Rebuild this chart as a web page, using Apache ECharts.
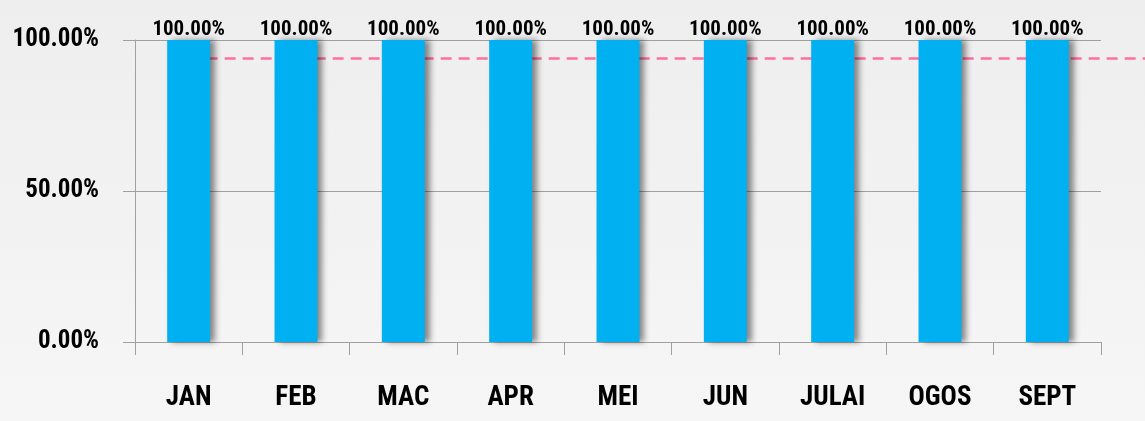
<!DOCTYPE html>
<html><head><meta charset="utf-8">
<script src="https://cdn.jsdelivr.net/npm/echarts@6/dist/echarts.min.js"></script>
<style>html,body{margin:0;padding:0;}#c{width:1145px;height:421px;}</style>
</head><body><div id="c"></div>
<script>
const categories = ['JAN','FEB','MAC','APR','MEI','JUN','JULAI','OGOS','SEPT'];
const values = [100,100,100,100,100,100,100,100,100];
const target = 94;
const yTicks = [0, 50, 100];

const FONT = "'Roboto Condensed','Open Sans Condensed',sans-serif";
const chart = echarts.init(document.getElementById('c'));
chart.setOption({
  backgroundColor: {type:'linear',x:0,y:0,x2:0,y2:1,colorStops:[{offset:0,color:'#eeeeee'},{offset:1,color:'#f6f6f6'}]},
  animation:false,
  grid:{left:135,right:44,top:40,bottom:79,containLabel:false,outerBoundsMode:'none'},
  xAxis:{type:'category',data:categories,
    axisLine:{lineStyle:{color:'#a0a0a0',width:1}},
    axisTick:{show:true,length:13,lineStyle:{color:'#a0a0a0'}},
    axisLabel:{margin:43,color:'#000',fontFamily:FONT,fontWeight:'bold',fontSize:27}
  },
  yAxis:{type:'value',min:0,max:100,interval:50,
    axisLine:{show:true,lineStyle:{color:'#a0a0a0'}},
    axisTick:{show:true,length:12,lineStyle:{color:'#a0a0a0'}},
    splitLine:{lineStyle:{color:'#a0a0a0',width:1}},
    axisLabel:{margin:36,color:'#000',fontFamily:FONT,fontWeight:'bold',fontSize:25,
      formatter:v=>v.toFixed(2)+'%'}
  },
  series:[{type:'bar',data:values,barWidth:'40%',z:3,
    itemStyle:{color:'#00b0f0',shadowColor:'rgba(0,0,0,0.45)',shadowBlur:6,shadowOffsetX:5},
    label:{show:true,position:'top',distance:0,color:'#000',fontFamily:FONT,fontWeight:'bold',fontSize:21,
      formatter:p=>p.value.toFixed(2)+'%'},
    markLine:{silent:true,symbol:'none',z:1,label:{show:false},
      lineStyle:{color:'#ff6fa0',type:[11,7],width:2.5},
      data:[[{xAxis:0,yAxis:target},{x:'100%',yAxis:target}]]}
  }]
});
</script></body></html>
